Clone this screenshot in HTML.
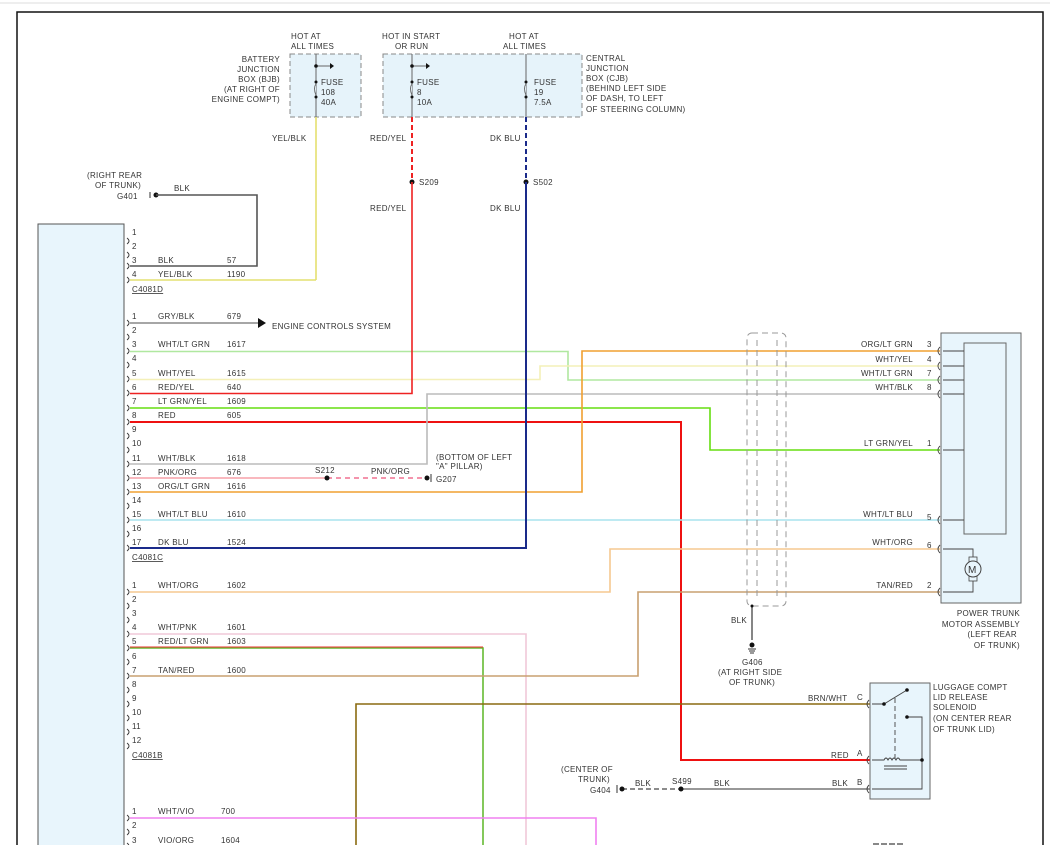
<!DOCTYPE html>
<html><head><meta charset="utf-8"><style>
html,body{margin:0;padding:0;background:#fff;}
svg{display:block;}
text{font-family:"Liberation Sans",sans-serif;font-size:8px;fill:#333;letter-spacing:0.3px;}
</style></head><body>
<svg width="1050" height="845" viewBox="0 0 1050 845" xmlns="http://www.w3.org/2000/svg">
<line x1="0" y1="3" x2="1050" y2="3" stroke="#ddd" stroke-width="1"/>
<path d="M17 845 V12 H1043 V845" fill="none" stroke="#111" stroke-width="1.5"/>

<!-- module -->
<rect x="38" y="224" width="86" height="630" fill="#e8f5fc" stroke="#555" stroke-width="1"/>

<!-- fuse boxes -->
<rect x="290" y="54" width="71" height="63" fill="#e6f3fa" stroke="#888" stroke-dasharray="5,3"/>
<rect x="383" y="54" width="199" height="63" fill="#e6f3fa" stroke="#888" stroke-dasharray="5,3"/>
<text x="291" y="39">HOT AT</text><text x="291" y="49">ALL TIMES</text>
<text x="382" y="39">HOT IN START</text><text x="395" y="49">OR RUN</text>
<text x="509" y="39">HOT AT</text><text x="503" y="49">ALL TIMES</text>
<g text-anchor="end">
<text x="280" y="62">BATTERY</text><text x="280" y="72">JUNCTION</text><text x="280" y="82">BOX (BJB)</text><text x="280" y="92">(AT RIGHT OF</text><text x="280" y="102">ENGINE COMPT)</text>
</g>
<text x="586" y="61">CENTRAL</text><text x="586" y="71">JUNCTION</text><text x="586" y="81">BOX (CJB)</text><text x="586" y="91">(BEHIND LEFT SIDE</text><text x="586" y="101">OF DASH, TO LEFT</text><text x="586" y="112">OF STEERING COLUMN)</text>
<g stroke="#666" stroke-width="1" fill="none">
<line x1="316" y1="54" x2="316" y2="117"/><line x1="412" y1="54" x2="412" y2="117"/><line x1="526" y1="54" x2="526" y2="117"/>
<line x1="316" y1="66" x2="330" y2="66"/><line x1="412" y1="66" x2="426" y2="66"/>
</g>
<g fill="#111"><circle cx="316" cy="66" r="1.8"/><circle cx="412" cy="66" r="1.8"/>
<circle cx="316" cy="82" r="1.5"/><circle cx="316" cy="97" r="1.5"/><circle cx="412" cy="82" r="1.5"/><circle cx="412" cy="97" r="1.5"/><circle cx="526" cy="82" r="1.5"/><circle cx="526" cy="97" r="1.5"/>
<path d="M330 63 L334 66 L330 69Z"/><path d="M426 63 L430 66 L426 69Z"/></g>
<g fill="#e6f3fa" stroke="#666"><path d="M316 84 q-3 4 0 11"/><path d="M412 84 q-3 4 0 11"/><path d="M526 84 q-3 4 0 11"/></g>
<text x="321" y="85">FUSE</text><text x="321" y="95">108</text><text x="321" y="105">40A</text>
<text x="417" y="85">FUSE</text><text x="417" y="95">8</text><text x="417" y="105">10A</text>
<text x="534" y="85">FUSE</text><text x="534" y="95">19</text><text x="534" y="105">7.5A</text>

<!-- feeds -->
<line x1="316" y1="117" x2="316" y2="280" stroke="#e4e070" stroke-width="1.6"/>
<line x1="412" y1="117" x2="412" y2="182" stroke="#ee2222" stroke-width="2" stroke-dasharray="5,3"/>
<line x1="526" y1="117" x2="526" y2="182" stroke="#1a2a8a" stroke-width="2" stroke-dasharray="5,3"/>
<text x="272" y="141">YEL/BLK</text><text x="370" y="141">RED/YEL</text><text x="490" y="141">DK BLU</text>
<circle cx="412" cy="182" r="2.5" fill="#111"/><circle cx="526" cy="182" r="2.5" fill="#111"/>
<text x="419" y="185">S209</text><text x="533" y="185">S502</text>
<text x="370" y="211">RED/YEL</text><text x="490" y="211">DK BLU</text>

<!-- G401 -->
<text x="87" y="178">(RIGHT REAR</text><text x="95" y="188">OF TRUNK)</text><text x="117" y="199">G401</text>
<line x1="150" y1="192" x2="150" y2="198" stroke="#333"/><circle cx="156" cy="195" r="2.5" fill="#111"/>
<text x="174" y="191">BLK</text>
<path d="M156 195 H257 V266 H130" fill="none" stroke="#555" stroke-width="1.6"/>
<path d="M130 280 H316" stroke="#e4e070" stroke-width="1.6" fill="none"/>

<!-- wires from C4081C -->
<g fill="none" stroke-width="1.6">
<path d="M130 323 H258" stroke="#888"/>
<path d="M130 351.5 H568 V380 H940" stroke="#b0e8a0"/>
<path d="M130 379.5 H540 V366 H940" stroke="#f4f0b8"/>
<path d="M130 393.5 H412 V182" stroke="#ee2222"/>
<path d="M130 408 H710 V450 H940" stroke="#66dd11"/>
<path d="M130 422 H681 V760 H870" stroke="#ee1111" stroke-width="2"/>
<path d="M130 464 H427 V394 H940" stroke="#bbbbbb"/>
<path d="M130 478 H327" stroke="#f7a0a8"/>
<path d="M327 478 H427" stroke="#f07090" stroke-dasharray="5,4"/>
<path d="M130 492 H582 V351 H940" stroke="#f0a030"/>
<path d="M130 520 H940" stroke="#a8e4ee"/>
<path d="M130 548 H526 V182" stroke="#1a2a8a" stroke-width="2"/>
<path d="M130 592 H610 V549 H940" stroke="#f5c890"/>
<path d="M130 634 H526 V845" stroke="#f0c8d8"/>
<path d="M130 648 H483 V845" stroke="#66bb33"/>
<path d="M130 647 H483" stroke="#ee3333" stroke-width="1"/>
<path d="M130 676 H638 V592 H940" stroke="#c8a070"/>
<path d="M356 845 V704 H870" stroke="#8a6a10"/>
<path d="M130 818 H596 V845" stroke="#f080f0"/>
<path d="M622 789 H681" stroke="#666" stroke-dasharray="5,3"/>
<path d="M681 789 H870" stroke="#777"/>
</g>
<path d="M258 318 L266 323 L258 328Z" fill="#111"/>
<text x="272" y="329">ENGINE CONTROLS SYSTEM</text>
<circle cx="327" cy="478" r="2.5" fill="#111"/><circle cx="427" cy="478" r="2.5" fill="#111"/>
<line x1="431" y1="474" x2="431" y2="482" stroke="#333"/>
<text x="315" y="473">S212</text><text x="371" y="474">PNK/ORG</text>
<text x="436" y="460">(BOTTOM OF LEFT</text><text x="436" y="469">"A" PILLAR)</text><text x="436" y="482">G207</text>

<!-- pin labels left -->
<g>
<text x="132" y="235">1</text><text x="132" y="249">2</text><text x="132" y="263">3</text><text x="158" y="263">BLK</text><text x="227" y="263">57</text>
<text x="132" y="277">4</text><text x="158" y="277">YEL/BLK</text><text x="227" y="277">1190</text>
<text x="132" y="292" text-decoration="underline">C4081D</text>
<text x="132" y="319">1</text><text x="158" y="319">GRY/BLK</text><text x="227" y="319">679</text>
<text x="132" y="333">2</text>
<text x="132" y="347">3</text><text x="158" y="347">WHT/LT GRN</text><text x="227" y="347">1617</text>
<text x="132" y="361">4</text>
<text x="132" y="376">5</text><text x="158" y="376">WHT/YEL</text><text x="227" y="376">1615</text>
<text x="132" y="390">6</text><text x="158" y="390">RED/YEL</text><text x="227" y="390">640</text>
<text x="132" y="404">7</text><text x="158" y="404">LT GRN/YEL</text><text x="227" y="404">1609</text>
<text x="132" y="418">8</text><text x="158" y="418">RED</text><text x="227" y="418">605</text>
<text x="132" y="432">9</text><text x="132" y="446">10</text>
<text x="132" y="461">11</text><text x="158" y="461">WHT/BLK</text><text x="227" y="461">1618</text>
<text x="132" y="475">12</text><text x="158" y="475">PNK/ORG</text><text x="227" y="475">676</text>
<text x="132" y="489">13</text><text x="158" y="489">ORG/LT GRN</text><text x="227" y="489">1616</text>
<text x="132" y="503">14</text>
<text x="132" y="517">15</text><text x="158" y="517">WHT/LT BLU</text><text x="227" y="517">1610</text>
<text x="132" y="531">16</text>
<text x="132" y="545">17</text><text x="158" y="545">DK BLU</text><text x="227" y="545">1524</text>
<text x="132" y="560" text-decoration="underline">C4081C</text>
<text x="132" y="588">1</text><text x="158" y="588">WHT/ORG</text><text x="227" y="588">1602</text>
<text x="132" y="602">2</text><text x="132" y="616">3</text>
<text x="132" y="630">4</text><text x="158" y="630">WHT/PNK</text><text x="227" y="630">1601</text>
<text x="132" y="644">5</text><text x="158" y="644">RED/LT GRN</text><text x="227" y="644">1603</text>
<text x="132" y="659">6</text>
<text x="132" y="673">7</text><text x="158" y="673">TAN/RED</text><text x="227" y="673">1600</text>
<text x="132" y="687">8</text><text x="132" y="701">9</text><text x="132" y="715">10</text><text x="132" y="729">11</text><text x="132" y="743">12</text>
<text x="132" y="758" text-decoration="underline">C4081B</text>
<text x="132" y="814">1</text><text x="158" y="814">WHT/VIO</text><text x="221" y="814">700</text>
<text x="132" y="828">2</text>
<text x="132" y="843">3</text><text x="158" y="843">VIO/ORG</text><text x="221" y="843">1604</text>
</g>
<g fill="none" stroke="#333" stroke-width="0.9">
<path d="M127 238 q4 3 0 6"/><path d="M127 252 q4 3 0 6"/><path d="M127 263 q4 3 0 6"/><path d="M127 277 q4 3 0 6"/>
<path d="M127 320 q4 3 0 6"/><path d="M127 334 q4 3 0 6"/><path d="M127 348 q4 3 0 6"/><path d="M127 362 q4 3 0 6"/><path d="M127 376 q4 3 0 6"/><path d="M127 390 q4 3 0 6"/><path d="M127 405 q4 3 0 6"/><path d="M127 419 q4 3 0 6"/><path d="M127 433 q4 3 0 6"/><path d="M127 447 q4 3 0 6"/><path d="M127 461 q4 3 0 6"/><path d="M127 475 q4 3 0 6"/><path d="M127 489 q4 3 0 6"/><path d="M127 503 q4 3 0 6"/><path d="M127 517 q4 3 0 6"/><path d="M127 531 q4 3 0 6"/><path d="M127 545 q4 3 0 6"/>
<path d="M127 589 q4 3 0 6"/><path d="M127 603 q4 3 0 6"/><path d="M127 617 q4 3 0 6"/><path d="M127 631 q4 3 0 6"/><path d="M127 645 q4 3 0 6"/><path d="M127 659 q4 3 0 6"/><path d="M127 673 q4 3 0 6"/><path d="M127 687 q4 3 0 6"/><path d="M127 701 q4 3 0 6"/><path d="M127 715 q4 3 0 6"/><path d="M127 729 q4 3 0 6"/><path d="M127 743 q4 3 0 6"/>
<path d="M127 815 q4 3 0 6"/><path d="M127 829 q4 3 0 6"/><path d="M127 843 q4 3 0 6"/>
</g>

<!-- shield -->
<rect x="747" y="333" width="39" height="273" rx="5" fill="none" stroke="#999" stroke-dasharray="6,4"/>
<line x1="757" y1="340" x2="757" y2="600" stroke="#999" stroke-dasharray="6,4"/>
<line x1="777" y1="340" x2="777" y2="600" stroke="#999" stroke-dasharray="6,4"/>
<line x1="752" y1="606" x2="752" y2="640" stroke="#444" stroke-width="1.3"/>
<circle cx="752" cy="606" r="1.5" fill="#111"/>
<circle cx="752" cy="645" r="2.5" fill="#111"/>
<path d="M748 649 h8 M749 651 h6 M750 653 h4" stroke="#333"/>
<text x="731" y="623">BLK</text>
<text x="742" y="665">G406</text><text x="718" y="675">(AT RIGHT SIDE</text><text x="729" y="685">OF TRUNK)</text>

<!-- power trunk motor -->
<rect x="941" y="333" width="80" height="270" fill="#e8f5fc" stroke="#666"/>
<rect x="964" y="343" width="42" height="191" fill="#e8f5fc" stroke="#666"/>
<g stroke="#444" fill="none" stroke-width="0.9">
<path d="M943 351 H964 M943 366 H964 M943 380 H964 M943 394 H964 M943 450 H964 M943 520 H964"/>
<path d="M943 549 H973 V557 M973 581 V592 H943"/>
<path d="M940 347 q-4 4 0 8 M940 362 q-4 4 0 8 M940 376 q-4 4 0 8 M940 390 q-4 4 0 8 M940 446 q-4 4 0 8 M940 516 q-4 4 0 8 M940 545 q-4 4 0 8 M940 588 q-4 4 0 8"/>
</g>
<rect x="969" y="557" width="8" height="24" fill="#e8f5fc" stroke="#444" stroke-width="0.8"/>
<circle cx="973" cy="569" r="8" fill="#e8f5fc" stroke="#444"/>
<text x="968" y="573" style="font-size:10px">M</text>
<g text-anchor="end">
<text x="913" y="347">ORG/LT GRN</text><text x="913" y="362">WHT/YEL</text><text x="913" y="376">WHT/LT GRN</text><text x="913" y="390">WHT/BLK</text>
<text x="913" y="446">LT GRN/YEL</text><text x="913" y="517">WHT/LT BLU</text><text x="913" y="545">WHT/ORG</text><text x="913" y="588">TAN/RED</text>
<text x="1020" y="616">POWER TRUNK</text><text x="1020" y="627">MOTOR ASSEMBLY</text><text x="1017" y="637">(LEFT REAR</text><text x="1020" y="648">OF TRUNK)</text>
</g>
<text x="927" y="347">3</text><text x="927" y="362">4</text><text x="927" y="376">7</text><text x="927" y="390">8</text><text x="927" y="446">1</text><text x="927" y="520">5</text><text x="927" y="548">6</text><text x="927" y="588">2</text>

<!-- solenoid -->
<rect x="870" y="683" width="60" height="116" fill="#e8f5fc" stroke="#666"/>
<g stroke="#444" fill="none" stroke-width="0.9">
<path d="M872 704 H884 L907 690"/>
<path d="M907 717 H922 V789 H872"/>
<path d="M872 760 H884 q2 -4 4 0 q2 -4 4 0 q2 -4 4 0 q2 -4 4 0 H922"/>
<path d="M884 766 H907 M884 769 H907"/>
<path d="M895 698 V758" stroke-dasharray="5,3"/>
<path d="M869 700 q-4 4 0 8 M869 756 q-4 4 0 8 M869 785 q-4 4 0 8"/>
</g>
<g fill="#111"><circle cx="884" cy="704" r="1.8"/><circle cx="907" cy="690" r="1.8"/><circle cx="907" cy="717" r="1.8"/><circle cx="922" cy="760" r="1.8"/></g>
<text x="933" y="690">LUGGAGE COMPT</text><text x="933" y="700">LID RELEASE</text><text x="933" y="710">SOLENOID</text><text x="933" y="721">(ON CENTER REAR</text><text x="933" y="732">OF TRUNK LID)</text>
<text x="808" y="701">BRN/WHT</text><text x="857" y="700">C</text>
<text x="831" y="758">RED</text><text x="857" y="756">A</text>
<text x="832" y="786">BLK</text><text x="857" y="785">B</text>
<text x="561" y="772">(CENTER OF</text><text x="578" y="782">TRUNK)</text><text x="590" y="793">G404</text>
<line x1="617" y1="785" x2="617" y2="793" stroke="#333"/>
<circle cx="622" cy="789" r="2.5" fill="#111"/><circle cx="681" cy="789" r="2.5" fill="#111"/>
<text x="635" y="786">BLK</text><text x="672" y="784">S499</text><text x="714" y="786">BLK</text>

<path d="M873 844 H905" stroke="#888" stroke-dasharray="6,2" stroke-width="2"/>
</svg>
</body></html>
